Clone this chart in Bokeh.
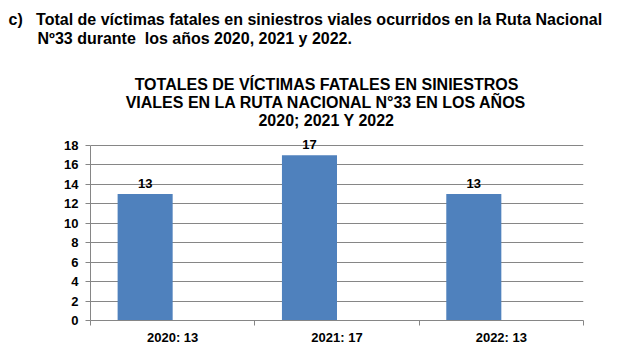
from bokeh.plotting import figure
from bokeh.models import Range1d, FixedTicker, Label, LabelSet, ColumnDataSource, Title
from bokeh.core.properties import value
from bokeh.embed import file_html
from bokeh.resources import INLINE

years = ["2020", "2021", "2022"]
victims = [13, 17, 13]
tick_labels = ["2020: 13", "2021: 17", "2022: 13"]
y_ticks = [0, 2, 4, 6, 8, 10, 12, 14, 16, 18]
NB = "\u00a0"
header_lines = ["c)" + NB * 3 + "Total de víctimas fatales en siniestros viales ocurridos en la Ruta Nacional",
                "Nº33 durante" + NB + " los años 2020, 2021 y 2022."]
title_lines = ["TOTALES DE VÍCTIMAS FATALES EN SINIESTROS",
               "VIALES EN LA RUTA NACIONAL N°33 EN LOS AÑOS",
               "2020; 2021 Y 2022"]

FONT = "Liberation Sans"
BAR_W = 0.335
Y_MAX = max(y_ticks)
FRAME_TOP = 46      # px from canvas top
FRAME_BOTTOM = 320  # px from canvas top
Y18_PX = 145        # where the top gridline sits
y_end = Y_MAX * (FRAME_BOTTOM - FRAME_TOP) / (FRAME_BOTTOM - Y18_PX)

p = figure(width=626, height=355, output_backend="svg", toolbar_location=None,
           x_range=Range1d(0, len(years)), y_range=Range1d(0, y_end),
           min_border_left=90, min_border_right=43, min_border_top=FRAME_TOP,
           min_border_bottom=35)
p.outline_line_color = None
p.background_fill_color = "white"
p.border_fill_color = "white"

centers = [i + 0.5 for i in range(len(years))]
bar_x = [c - BAR_W / 2 for c in centers]
src = ColumnDataSource(dict(x=bar_x, top=victims, txt=[str(v) for v in victims]))
p.vbar(x="x", top="top", width=BAR_W, bottom=0, source=src, fill_color="#4F81BD", line_color=None)
p.add_layout(LabelSet(x="x", y="top", text="txt", source=src, text_align="center",
                      text_baseline="bottom", y_offset=6, text_font=value(FONT),
                      text_font_style="bold", text_font_size="13px", text_color="#000000"))

# x axis
p.xaxis.ticker = FixedTicker(ticks=centers, minor_ticks=list(range(len(years) + 1)))
p.xaxis.major_label_overrides = {c: t for c, t in zip(centers, tick_labels)}
p.xaxis.major_tick_line_color = None
p.xaxis.major_tick_in = 0
p.xaxis.major_tick_out = 0
p.xaxis.minor_tick_line_color = "#868686"
p.xaxis.minor_tick_in = 0
p.xaxis.minor_tick_out = 5
p.xaxis.axis_line_color = "#868686"
p.xaxis.major_label_text_font = FONT
p.xaxis.major_label_text_font_style = "bold"
p.xaxis.major_label_text_font_size = "13px"
p.xaxis.major_label_text_color = "#000000"
p.xaxis.major_label_standoff = 4
p.xgrid.grid_line_color = None

# y axis
p.yaxis.ticker = FixedTicker(ticks=y_ticks)
p.yaxis.bounds = (0, Y_MAX)
p.yaxis.minor_tick_line_color = None
p.yaxis.major_tick_in = 0
p.yaxis.major_tick_out = 5
p.yaxis.major_tick_line_color = "#868686"
p.yaxis.axis_line_color = "#868686"
p.yaxis.major_label_text_font = FONT
p.yaxis.major_label_text_font_style = "bold"
p.yaxis.major_label_text_font_size = "13px"
p.yaxis.major_label_text_color = "#000000"
p.yaxis.major_label_standoff = 7
p.ygrid.grid_line_color = "#868686"
p.ygrid.grid_line_width = 1

# header (titles stack outward: add the lower line first)
p.add_layout(Title(text=header_lines[1], align="left", offset=-53, standoff=0,
                   text_font=FONT, text_font_style="bold", text_font_size="16px",
                   text_color="#000000"), "above")
p.add_layout(Title(text=header_lines[0], align="left", offset=-82, standoff=0,
                   text_font=FONT, text_font_style="bold", text_font_size="16px",
                   text_color="#000000"), "above")

# chart title inside the (extended) frame, screen units from frame bottom-left
for i, line in enumerate(title_lines):
    p.add_layout(Label(x=236, y=236 - 18 * i, x_units="screen", y_units="screen", text=line,
                       text_font=FONT, text_font_style="bold", text_font_size="16px",
                       text_align="center", text_baseline="middle", text_color="#000000"))

open("out.html", "w").write(file_html(p, INLINE))
